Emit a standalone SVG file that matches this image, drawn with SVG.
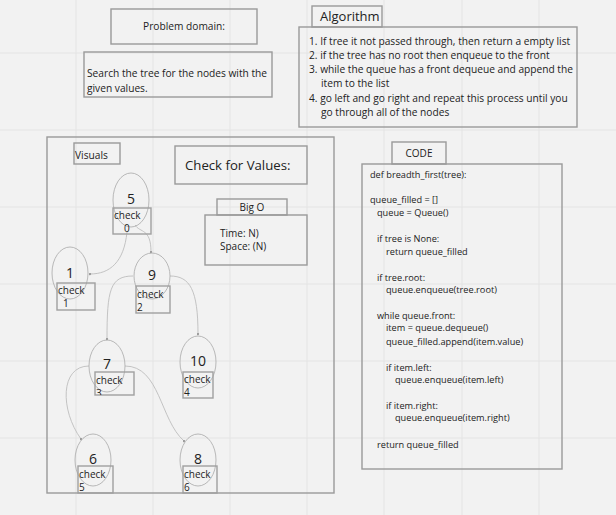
<svg xmlns="http://www.w3.org/2000/svg" width="616" height="515" viewBox="0 0 616 515">
<style>
text{font-family:"Open Sans","Noto Sans","Liberation Sans",sans-serif;fill:#222}
.box{fill:none;stroke:#9a9a9a;stroke-width:1.4}
.grid{stroke:#e4e4e4;stroke-width:1}
.ell{fill:none;stroke:#a8a8a8;stroke-width:0.8}
.chk{fill:none;stroke:#a0a0a0;stroke-width:1.4}
.con{fill:none;stroke:#bdbdbd;stroke-width:0.9;marker-end:url(#dot)}
.t{font-size:10.2px}
.c{font-size:9.2px}
.n{font-size:14px}
.k{font-size:10px}
</style>
<defs>
<marker id="dot" viewBox="0 0 4 4" refX="2" refY="2" markerWidth="3" markerHeight="3" markerUnits="userSpaceOnUse"><circle cx="2" cy="2" r="1.5" fill="#999"/></marker>
<clipPath id="clip3"><rect x="95" y="372" width="39" height="23"/></clipPath>
</defs>
<rect width="616" height="515" fill="#f2f2f2"/>
<g id="grid">
<line class="grid" x1="76" y1="0" x2="76" y2="515"/>
<line class="grid" x1="153" y1="0" x2="153" y2="515"/>
<line class="grid" x1="230" y1="0" x2="230" y2="515"/>
<line class="grid" x1="307" y1="0" x2="307" y2="515"/>
<line class="grid" x1="384" y1="0" x2="384" y2="515"/>
<line class="grid" x1="462" y1="0" x2="462" y2="515"/>
<line class="grid" x1="539" y1="0" x2="539" y2="515"/>
<line class="grid" x1="0" y1="53" x2="616" y2="53"/>
<line class="grid" x1="0" y1="130" x2="616" y2="130"/>
<line class="grid" x1="0" y1="207" x2="616" y2="207"/>
<line class="grid" x1="0" y1="284" x2="616" y2="284"/>
<line class="grid" x1="0" y1="361" x2="616" y2="361"/>
<line class="grid" x1="0" y1="438" x2="616" y2="438"/>
</g>
<g id="problem-domain">
<rect class="box" x="111" y="9" width="146" height="35"/>
<text class="t" x="184" y="30" text-anchor="middle">Problem domain:</text>
</g>
<g id="description">
<rect class="box" x="84" y="52" width="188" height="45"/>
<text class="t" x="87" y="77">Search the tree for the nodes with the</text>
<text class="t" x="87" y="92">given values.</text>
</g>
<g id="algorithm-label">
<rect class="box" x="312" y="6" width="70" height="21"/>
<text x="320" y="21" font-size="13px">Algorithm</text>
</g>
<g id="algorithm">
<rect class="box" x="299" y="27" width="278" height="100"/>
<text class="t" x="309" y="45">1. If tree it not passed through, then return a empty list</text>
<text class="t" x="309" y="59">2. if the tree has no root then enqueue to the front</text>
<text class="t" x="309" y="73">3. while the queue has a front dequeue and append the</text>
<text class="t" x="321" y="87">item to the list</text>
<text class="t" x="309" y="102">4. go left and go right and repeat this process until you</text>
<text class="t" x="321" y="116">go through all of the nodes</text>
</g>
<g id="visuals">
<rect class="box" x="47" y="137" width="287" height="356"/>
</g>
<g id="visuals-label">
<rect class="box" x="74" y="143" width="46" height="21"/>
<text class="t" x="75" y="159">Visuals</text>
</g>
<g id="check-for-values">
<rect class="box" x="175" y="146" width="132" height="38"/>
<text x="185" y="170" font-size="13.2px">Check for Values:</text>
</g>
<g id="bigo-label">
<rect class="box" x="217" y="199" width="70" height="16"/>
<text class="k" x="252" y="211" text-anchor="middle">Big O</text>
</g>
<g id="bigo">
<rect class="box" x="205" y="215" width="102" height="50"/>
<text class="k" x="220" y="237">Time: N)</text>
<text class="k" x="220" y="250">Space: (N)</text>
</g>
<g id="connectors">
<path class="con" d="M127,232 C124,262 110,274 90,274"/>
<path class="con" d="M135,225 C140,233 151,228 151,252"/>
<path class="con" d="M133,276 C110,276 107,290 107,339"/>
<path class="con" d="M170,276 C190,276 198,290 198,334"/>
<path class="con" d="M89,366 C60,366 60,410 81,439"/>
<path class="con" d="M125,366 C160,366 160,420 184,441"/>
</g>
<g id="node-5">
<ellipse class="ell" cx="131" cy="200" rx="18" ry="27"/>
<text class="n" x="131" y="204" text-anchor="middle">5</text>
<rect class="chk" x="113" y="208" width="38" height="26"/>
<text class="k" x="114" y="219">check</text>
<text class="k" x="124" y="232">0</text>
</g>
<g id="node-1">
<ellipse class="ell" cx="70" cy="273" rx="18" ry="26"/>
<text class="n" x="70" y="278" text-anchor="middle">1</text>
<rect class="chk" x="57" y="283" width="38" height="27"/>
<text class="k" x="58" y="294">check</text>
<text class="k" x="63" y="307">1</text>
</g>
<g id="node-9">
<ellipse class="ell" cx="152" cy="276" rx="18" ry="23"/>
<text class="n" x="152" y="280" text-anchor="middle">9</text>
<rect class="chk" x="136" y="286" width="34" height="27"/>
<text class="k" x="137" y="298">check</text>
<text class="k" x="137" y="311">2</text>
</g>
<g id="node-7">
<ellipse class="ell" cx="107" cy="366" rx="18" ry="26"/>
<text class="n" x="107" y="369" text-anchor="middle">7</text>
<rect class="chk" x="95" y="372" width="39" height="23"/>
<text class="k" x="96" y="384">check</text>
<text class="k" x="96" y="397" clip-path="url(#clip3)">3</text>
</g>
<g id="node-10">
<ellipse class="ell" cx="198" cy="362" rx="18" ry="26"/>
<text class="n" x="198" y="366" text-anchor="middle">10</text>
<rect class="chk" x="183" y="372" width="30" height="26"/>
<text class="k" x="184" y="383">check</text>
<text class="k" x="184" y="396">4</text>
</g>
<g id="node-6">
<ellipse class="ell" cx="93" cy="460" rx="18" ry="26"/>
<text class="n" x="93" y="464" text-anchor="middle">6</text>
<rect class="chk" x="78" y="466" width="35" height="27"/>
<text class="k" x="79" y="478">check</text>
<text class="k" x="79" y="491">5</text>
</g>
<g id="node-8">
<ellipse class="ell" cx="198" cy="460" rx="18" ry="26"/>
<text class="n" x="198" y="464" text-anchor="middle">8</text>
<rect class="chk" x="183" y="466" width="34" height="27"/>
<text class="k" x="184" y="478">check</text>
<text class="k" x="184" y="491">6</text>
</g>
<g id="code-label">
<rect class="box" x="392" y="142" width="54" height="22"/>
<text class="k" x="419" y="157" text-anchor="middle">CODE</text>
</g>
<g id="code">
<rect class="box" x="362" y="164" width="200" height="305"/>
<text class="c" x="370" y="178">def breadth_first(tree):</text>
<text class="c" x="370" y="203">queue_filled = []</text>
<text class="c" x="377" y="216">queue = Queue()</text>
<text class="c" x="377" y="242">if tree is None:</text>
<text class="c" x="386" y="255">return queue_filled</text>
<text class="c" x="377" y="281">if tree.root:</text>
<text class="c" x="386" y="293">queue.enqueue(tree.root)</text>
<text class="c" x="377" y="319">while queue.front:</text>
<text class="c" x="386" y="331">item = queue.dequeue()</text>
<text class="c" x="386" y="345">queue_filled.append(item.value)</text>
<text class="c" x="386" y="371">if item.left:</text>
<text class="c" x="395" y="383">queue.enqueue(item.left)</text>
<text class="c" x="386" y="409">if item.right:</text>
<text class="c" x="395" y="421">queue.enqueue(item.right)</text>
<text class="c" x="377" y="448">return queue_filled</text>
</g>
</svg>
